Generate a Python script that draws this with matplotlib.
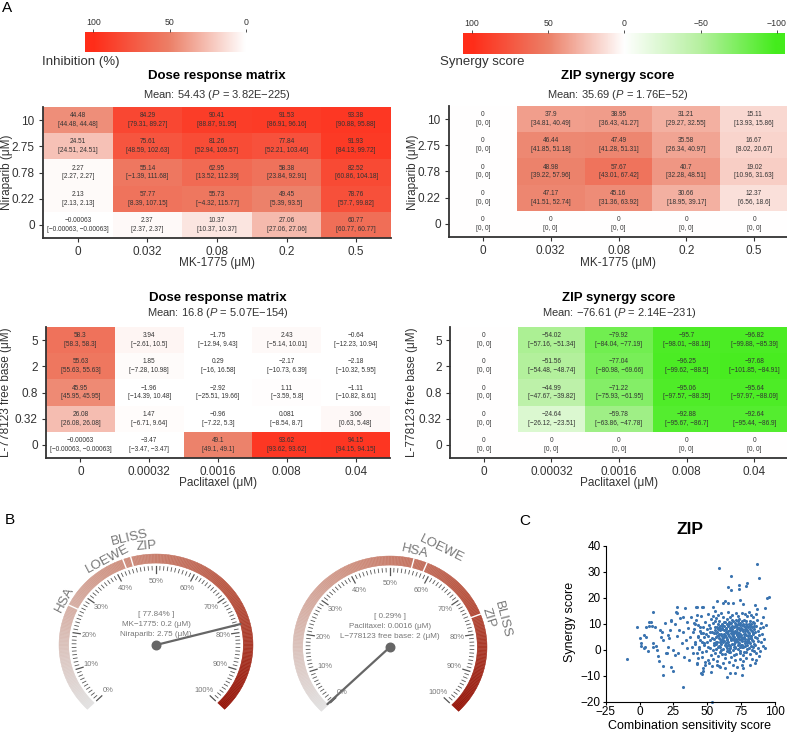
import numpy as np
import matplotlib
matplotlib.use('Agg')
import matplotlib.pyplot as plt
from matplotlib.colors import LinearSegmentedColormap, Normalize
from matplotlib.collections import PolyCollection

plt.rcParams['font.family'] = ['Liberation Sans', 'DejaVu Sans']
plt.rcParams['mathtext.fontset'] = 'custom'
plt.rcParams['mathtext.rm'] = 'Liberation Sans'
plt.rcParams['mathtext.it'] = 'Liberation Sans:italic'
plt.rcParams['mathtext.bf'] = 'Liberation Sans:bold'

# Data ###################################################
mk_dose = ['0', '0.032', '0.08', '0.2', '0.5']
nira_dose = ['10', '2.75', '0.78', '0.22', '0']          # top -> bottom
pac_dose = ['0', '0.00032', '0.0016', '0.008', '0.04']
l77_dose = ['5', '2', '0.8', '0.32', '0']                # top -> bottom

# dose response, MK-1775 x Niraparib (rows top -> bottom)
dr1 = [[44.48, 84.29, 90.41, 91.53, 93.38],
       [24.51, 75.61, 81.26, 77.84, 91.93],
       [2.27, 55.14, 62.95, 58.38, 82.52],
       [2.13, 57.77, 55.73, 49.45, 78.76],
       [-0.00063, 2.37, 10.37, 27.06, 60.77]]
dr1_lo = [[44.48, 79.31, 88.87, 86.91, 90.88],
          [24.51, 48.59, 52.94, 52.21, 84.13],
          [2.27, -1.39, 13.52, 23.84, 60.86],
          [2.13, 8.39, -4.32, 5.39, 57.7],
          [-0.00063, 2.37, 10.37, 27.06, 60.77]]
dr1_hi = [[44.48, 89.27, 91.95, 96.16, 95.88],
          [24.51, 102.63, 109.57, 103.46, 99.72],
          [2.27, 111.68, 112.39, 92.91, 104.18],
          [2.13, 107.15, 115.77, 93.5, 99.82],
          [-0.00063, 2.37, 10.37, 27.06, 60.77]]

# ZIP synergy, MK-1775 x Niraparib
zip1 = [[0, 37.9, 38.95, 31.21, 15.11],
        [0, 46.44, 47.49, 35.58, 16.67],
        [0, 48.98, 57.67, 40.7, 19.02],
        [0, 47.17, 45.16, 30.66, 12.37],
        [0, 0, 0, 0, 0]]
zip1_lo = [[0, 34.81, 36.43, 29.27, 13.93],
           [0, 41.85, 41.28, 26.34, 8.02],
           [0, 39.22, 43.01, 32.28, 10.96],
           [0, 41.51, 31.36, 18.95, 6.56],
           [0, 0, 0, 0, 0]]
zip1_hi = [[0, 40.49, 41.27, 32.55, 15.86],
           [0, 51.18, 51.31, 40.97, 20.67],
           [0, 57.96, 67.42, 48.51, 31.63],
           [0, 52.74, 63.92, 39.17, 18.6],
           [0, 0, 0, 0, 0]]

# dose response, Paclitaxel x L-778123
dr2 = [[58.3, 3.94, -1.75, 2.43, -0.64],
       [55.63, 1.85, 0.29, -2.17, -2.18],
       [45.95, -1.96, -2.92, 1.11, -1.11],
       [26.08, 1.47, -0.96, 0.081, 3.06],
       [-0.00063, -3.47, 49.1, 93.62, 94.15]]
dr2_lo = [[58.3, -2.61, -12.94, -5.14, -12.23],
          [55.63, -7.28, -16, -10.73, -10.32],
          [45.95, -14.39, -25.51, -3.59, -10.82],
          [26.08, -6.71, -7.22, -8.54, 0.63],
          [-0.00063, -3.47, 49.1, 93.62, 94.15]]
dr2_hi = [[58.3, 10.5, 9.43, 10.01, 10.94],
          [55.63, 10.98, 16.58, 6.39, 5.95],
          [45.95, 10.48, 19.66, 5.8, 8.61],
          [26.08, 9.64, 5.3, 8.7, 5.48],
          [-0.00063, -3.47, 49.1, 93.62, 94.15]]

# ZIP synergy, Paclitaxel x L-778123
zip2 = [[0, -54.02, -79.92, -95.7, -96.82],
        [0, -51.56, -77.04, -96.25, -97.68],
        [0, -44.99, -71.22, -95.06, -95.64],
        [0, -24.64, -59.78, -92.88, -92.64],
        [0, 0, 0, 0, 0]]
zip2_lo = [[0, -57.16, -84.04, -98.01, -99.88],
           [0, -54.48, -80.98, -99.62, -101.85],
           [0, -47.67, -75.93, -97.57, -97.97],
           [0, -26.12, -63.86, -95.67, -95.44],
           [0, 0, 0, 0, 0]]
zip2_hi = [[0, -51.34, -77.19, -88.18, -85.39],
           [0, -48.74, -69.66, -88.5, -84.91],
           [0, -39.82, -61.95, -88.35, -88.09],
           [0, -23.51, -47.78, -86.7, -86.9],
           [0, 0, 0, 0, 0]]

# gauges (B)
g1_marks = {'HSA': 26.3, 'LOEWE': 42.6, 'BLISS': 44.4, 'ZIP': 44.4}
g1_value = 77.84
g1_text = ['[ 77.84% ]', 'MK\u22121775: 0.2 (\u03bcM)', 'Niraparib: 2.75 (\u03bcM)']
g2_marks = {'HSA': 55.3, 'LOEWE': 58.3, 'BLISS': 75.5, 'ZIP': 75.5}
g2_value = 0.29
g2_text = ['[ 0.29% ]', 'Paclitaxel: 0.0016 (\u03bcM)', 'L\u2212778123 free base: 2 (\u03bcM)']

# ZIP score vs combination sensitivity score (C)
css_zip = [
    (-9.0, -3.6), (-2.1, 8.8), (0.3, 4.4), (0.8, 2.7), (3.5, 5.6), (4.0, 1.2), (4.8, 5.0),
    (6.5, -0.4), (7.2, 9.1), (8.5, 10.5), (9.2, 9.1), (9.7, 2.4), (10.2, 14.6), (11.4, 8.6),
    (12.6, -0.1), (13.9, -2.4), (14.6, -4.2), (15.6, 5.0), (16.3, 6.9), (17.1, 3.7),
    (17.1, -6.3), (17.6, -9.7), (18.8, 10.1), (20.0, -1.4), (21.3, 1.2), (21.8, 4.4),
    (22.5, 7.6), (23.0, 11.2), (23.2, -6.5), (24.5, -8.1), (25.0, -0.1), (26.2, 9.9),
    (27.4, 14.0), (27.9, 5.3), (28.6, -1.4), (29.4, 7.6), (29.9, 12.1), (31.1, 2.4),
    (31.8, -14.2), (32.3, 7.0), (32.8, -2.7), (33.6, 15.9), (34.3, 3.7), (34.8, 10.8),
    (35.3, 0.5), (36.0, 8.2), (36.8, -4.0), (37.3, 5.0), (37.7, 12.7), (38.5, 1.2),
    (39.2, -1.4), (39.7, 6.9), (40.2, 10.1), (40.9, 3.1), (41.7, 16.5), (42.2, -5.3),
    (42.7, 13.3), (43.4, 5.0), (44.1, 1.2), (44.6, 8.8), (45.1, -9.1), (45.8, -0.8),
    (45.8, 16.5), (46.6, 6.5), (47.1, -7.2), (47.6, 2.4), (4.5, 8.8), (6.7, 10.8),
    (9.9, 1.2), (11.9, 1.4), (14.9, 7.6), (19.7, -1.3), (21.2, 5.7), (23.4, 11.4),
    (26.0, -2.0), (26.7, 14.6), (27.6, 16.5), (32.0, 12.7), (1.3, 1.4), (3.3, 0.5),
    # upper and lower outliers
    (58.9, 31.5), (87.0, 32.8), (88.2, 27.7), (67.5, 28.3), (65.5, 24.2), (67.3, 23.0),
    (73.4, 24.9), (73.7, 23.2), (79.1, 25.8), (78.6, 24.6), (93.9, 19.8), (95.8, 20.2),
    (92.6, 15.9), (57.0, 18.9), (61.9, 18.1), (63.1, 18.7), (65.5, 18.1), (68.8, 17.8),
    (74.2, 19.1), (76.6, 17.6), (85.3, 17.2), (86.5, 15.5), (42.2, 16.5), (46.6, 16.5),
    (54.5, 16.5), (53.7, -20.0), (64.3, -10.6), (66.8, -9.1), (70.5, -9.1), (75.4, -9.7),
    (76.6, -7.2), (85.3, -5.2), (46.6, -8.1), (45.9, -9.4), (52.5, -8.5), (57.0, -5.9),
    (59.4, -6.5), (48.3, -5.9), (42.2, -5.5),
    # dense cloud
    (40.5, 7.8), (41.2, 2.1), (41.8, 11.5), (42.3, -1.2), (42.9, 5.4), (43.5, 9.6), (44.0, 0.3),
    (44.6, 3.9), (45.2, 12.8), (45.7, 6.6), (46.1, -2.8), (46.8, 8.9), (47.3, 1.7), (47.9, 4.8),
    (48.4, 10.7), (48.9, -0.6), (49.3, 6.1), (49.8, 2.9), (50.2, 13.9), (50.6, -3.9),
    (40.9, 9.9), (43.1, -3.1), (44.9, 7.2), (46.4, 3.0), (48.1, -4.6), (49.6, 8.1),
    (50.9, 5.2), (51.3, 9.4), (51.7, 0.8), (52.1, 3.6), (52.5, 11.8), (52.8, -1.9), (53.2, 7.0),
    (53.6, 4.4), (54.0, -0.2), (54.3, 10.3), (54.7, 1.9), (55.0, 6.3), (50.4, 1.1), (51.1, -5.2),
    (52.3, 8.2), (53.9, 13.1), (54.5, -3.4), (55.3, 2.6), (51.9, 6.7), (53.4, -6.3),
    (55.6, 8.8), (55.9, -1.1), (56.2, 4.9), (56.5, 12.2), (56.8, 0.4), (57.1, 6.9), (57.4, 3.1),
    (57.7, 9.7), (58.0, -2.4), (58.3, 5.5), (58.6, 1.6), (58.9, 11.0), (59.2, 7.6), (59.5, -0.8),
    (59.8, 3.9), (56.0, 14.8), (57.0, -4.3), (58.1, 13.5), (59.0, -6.1), (59.6, 9.2), (56.7, 2.2),
    (57.9, 7.9), (58.8, 4.6), (55.8, 10.9), (59.3, 0.9),
    (60.1, 6.1), (60.4, 2.3), (60.7, 9.9), (61.0, -1.5), (61.3, 4.5), (61.6, 12.6), (61.9, 0.2),
    (62.2, 7.4), (62.5, 3.3), (62.8, -3.2), (63.1, 10.5), (63.4, 5.7), (63.7, 1.3), (64.0, 8.5),
    (64.3, -0.4), (64.6, 4.0), (64.9, 11.7), (60.2, 14.2), (61.5, -5.0), (62.0, 9.0), (63.0, -7.0),
    (63.9, 2.6), (64.5, 6.8), (60.9, 3.7), (62.6, 5.9), (61.2, 7.9), (63.3, -1.8), (64.8, 0.8),
    (65.2, 3.0), (65.5, 7.3), (65.8, -1.0), (66.1, 5.2), (66.4, 9.8), (66.7, 1.5), (67.0, 12.4),
    (67.3, 4.2), (67.6, -2.7), (67.9, 8.1), (68.2, 2.3), (68.5, 6.0), (68.8, -0.1), (69.1, 10.9),
    (69.4, 3.6), (69.7, 7.0), (65.3, 14.5), (66.0, -4.8), (67.1, 0.6), (68.0, 13.4), (68.9, -5.7),
    (69.5, 1.0), (65.9, 10.7), (66.6, 4.8), (67.7, 6.6), (68.4, 9.2), (69.9, -2.2), (66.3, 2.0),
    (67.4, 8.7), (69.2, 5.4),
    (70.0, 4.7), (70.3, 9.1), (70.6, 1.2), (70.9, 6.4), (71.2, -1.6), (71.5, 11.3), (71.8, 3.5),
    (72.1, 7.8), (72.4, 0.1), (72.7, 5.0), (73.0, 13.0), (73.3, 2.7), (73.6, 8.4), (73.9, -3.5),
    (74.2, 6.2), (74.5, 10.2), (74.8, 1.8), (70.4, -4.0), (71.0, 14.0), (72.0, -6.6), (72.9, 9.8),
    (73.7, 4.1), (74.4, -1.3), (70.8, 7.3), (71.7, 5.6), (72.6, 2.0), (73.4, 11.9), (74.7, 3.6),
    (70.2, 2.9), (74.0, 7.4),
    (75.1, 5.8), (75.4, 0.9), (75.7, 9.4), (76.0, 3.2), (76.3, 7.1), (76.6, -2.1), (76.9, 11.5),
    (77.2, 4.5), (77.5, 8.0), (77.8, 1.4), (78.1, 6.0), (78.4, -0.7), (78.7, 10.0), (79.0, 3.0),
    (79.3, 7.6), (79.6, 12.8), (75.5, 14.3), (76.2, -4.5), (77.3, -1.0), (78.0, 13.9), (78.8, -3.0),
    (79.8, 5.3), (75.9, 11.0), (76.8, 5.0), (77.9, 2.5), (79.4, 0.4), (75.3, -6.0), (78.5, 8.8),
    (80.1, 4.2), (80.4, 8.7), (80.7, 0.6), (81.0, 6.5), (81.3, 11.1), (81.6, 2.4), (81.9, -1.8),
    (82.2, 7.5), (82.5, 9.9), (82.8, 3.8), (83.1, -3.7), (83.4, 5.9), (83.7, 12.6), (84.0, 1.1),
    (84.3, 7.9), (84.6, -0.5), (80.5, 14.6), (81.5, -5.8), (82.0, 13.3), (83.0, 0.0), (84.8, 10.2),
    (80.9, 2.9), (82.6, 5.2), (83.8, 3.3),
    (85.0, 6.7), (85.4, 2.0), (85.8, 9.3), (86.2, -1.3), (86.6, 4.6), (87.0, 11.6), (87.4, 7.2),
    (87.8, 0.8), (88.3, 5.5), (88.8, 8.4), (89.3, 3.0), (89.8, 10.4), (90.3, 6.2), (90.8, 1.5),
    (91.5, 8.9), (92.2, 4.0), (93.0, 9.5), (86.0, 13.8), (88.0, -2.6), (91.0, 12.5), (92.5, 0.7),
    (85.7, -3.9), (89.0, -0.4), (87.2, 3.4),
    (55.2, 4.1), (56.4, 6.5), (57.6, 1.0), (58.4, 8.3), (59.7, 2.8), (60.6, 5.1), (61.8, 2.9),
    (62.4, 10.8), (63.6, 6.9), (64.2, 3.6), (65.0, 9.0), (65.7, 0.0), (66.9, 7.7), (67.8, 3.9),
    (68.6, 11.6), (69.3, 5.9), (70.1, 0.5), (70.7, 10.4), (71.4, 4.0), (72.2, 8.9), (72.8, 3.0),
    (73.5, 6.3), (74.1, 0.9), (74.9, 8.2), (75.6, 2.0), (76.4, 9.9), (77.0, 6.2), (77.7, 3.5),
    (78.3, 11.2), (78.9, 5.6), (79.5, 1.8), (80.2, 7.0), (80.8, 10.0), (81.4, 4.6), (82.1, 1.5),
    (82.9, 8.6), (83.5, 6.5), (84.2, 2.3), (84.9, 5.0), (56.1, 3.0), (57.3, 8.8), (58.7, 6.0),
    (60.0, 0.0), (61.1, 9.5), (62.9, 1.9), (63.8, 4.9), (64.7, 9.9), (65.6, 5.9), (66.8, -0.7),
    (67.5, 10.1), (68.7, 4.4), (69.8, 8.6), (70.5, 3.3), (71.6, 7.0), (72.5, 11.0), (73.2, 5.2),
    (73.8, -0.5), (74.6, 4.8), (75.8, 7.8), (76.7, 1.1), (77.4, 9.3), (78.2, 4.0), (79.1, 9.0),
    (79.9, 3.8), (80.6, 5.8), (81.8, 9.0), (83.3, 7.2), (84.5, 9.0), (55.5, 7.5), (57.2, 5.3),
    (59.1, 4.2), (60.8, 8.3), (62.1, 5.4), (63.5, 8.0), (65.4, 1.9), (66.5, 8.3), (68.1, 7.2),
    (69.6, 2.2), (71.1, 9.6), (72.3, 6.1), (74.3, 9.4), (75.9, 4.3), (77.6, 7.3), (78.6, 2.8),
    (80.3, 3.0), (81.2, 7.8), (82.4, 4.5), (83.9, 10.6),
]

# Figure setup ###########################################
W, H = 787, 736
fig = plt.figure(figsize=(W / 100, H / 100), dpi=100)
TXT = '#333333'


def px_axes(l, t, r, b):
    return fig.add_axes([l / W, 1 - b / H, (r - l) / W, (b - t) / H])


def ftext(x, y, s, **kw):
    kw.setdefault('ha', 'center')
    kw.setdefault('va', 'center')
    kw.setdefault('color', TXT)
    return fig.text(x / W, 1 - y / H, s, **kw)


def fmt(v):
    return ('%g' % v).replace('-', '\u2212')


white = (1, 1, 1)
mid_red = (236 / 255, 128 / 255, 104 / 255)
full_red = (1.0, 45 / 255, 25 / 255)
mid_green = (182 / 255, 240 / 255, 160 / 255)
full_green = (68 / 255, 236 / 255, 28 / 255)

inhib_cmap = LinearSegmentedColormap.from_list('inhib', [(0, white), (0.5, mid_red), (1, full_red)])
inhib_cmap.set_under('white')
inhib_norm = Normalize(0, 100)
syn_cmap = LinearSegmentedColormap.from_list(
    'syn', [(0, full_green), (0.25, mid_green), (0.5, white), (0.75, mid_red), (1, full_red)])
syn_norm = Normalize(-100, 100)


def heatmap(rect, vals, lo, hi, cmap, norm, xlabs, ylabs):
    ax = px_axes(*rect)
    v = np.array(vals)[::-1]
    l = np.array(lo)[::-1]
    h = np.array(hi)[::-1]
    edges = np.arange(6) - 0.5
    ax.pcolormesh(edges, edges, v, cmap=cmap, norm=norm)
    for i in range(5):
        for j in range(5):
            ax.text(j, i + 0.17, fmt(v[i, j]), ha='center', va='center', fontsize=4.7, color=TXT)
            ax.text(j, i - 0.17, '[%s, %s]' % (fmt(l[i, j]), fmt(h[i, j])),
                    ha='center', va='center', fontsize=4.7, color=TXT)
    ax.set_xlim(-0.5, 4.5)
    ax.set_ylim(-0.5, 4.5)
    ax.set_xticks(range(5))
    ax.set_xticklabels(xlabs)
    ax.set_yticks(range(5))
    ax.set_yticklabels(ylabs[::-1])
    for s in ['top', 'right']:
        ax.spines[s].set_visible(False)
    for s in ['left', 'bottom']:
        ax.spines[s].set_color(TXT)
        ax.spines[s].set_linewidth(1.3)
    ax.tick_params(labelsize=8.5, colors=TXT, length=3, width=0.8, pad=3)
    return ax


# Panel A: heatmaps ######################################
heatmap((43, 107, 391, 238), dr1, dr1_lo, dr1_hi, inhib_cmap, inhib_norm, mk_dose, nira_dose)
heatmap((449, 106, 788, 237), zip1, zip1_lo, zip1_hi, syn_cmap, syn_norm, mk_dose, nira_dose)
heatmap((46, 327, 390, 458), dr2, dr2_lo, dr2_hi, inhib_cmap, inhib_norm, pac_dose, l77_dose)
heatmap((450, 327, 788, 458), zip2, zip2_lo, zip2_hi, syn_cmap, syn_norm, pac_dose, l77_dose)

ftext(217, 76, 'Dose response matrix', fontsize=9.5, fontweight='bold', color='black')
ftext(217, 95, 'Mean: 54.43 ($P$ = 3.82E\u2212225)', fontsize=8)
ftext(618, 76, 'ZIP synergy score', fontsize=9.5, fontweight='bold', color='black')
ftext(618, 95, 'Mean: 35.69 ($P$ = 1.76E\u221252)', fontsize=8)
ftext(218, 298, 'Dose response matrix', fontsize=9.5, fontweight='bold', color='black')
ftext(218, 313, 'Mean: 16.8 ($P$ = 5.07E\u2212154)', fontsize=8)
ftext(619, 298, 'ZIP synergy score', fontsize=9.5, fontweight='bold', color='black')
ftext(619, 313, 'Mean: \u221276.61 ($P$ = 2.14E\u2212231)', fontsize=8)

ftext(217, 263, 'MK-1775 (\u03bcM)', fontsize=8.5)
ftext(618, 263, 'MK-1775 (\u03bcM)', fontsize=8.5)
ftext(218, 483, 'Paclitaxel (\u03bcM)', fontsize=8.5)
ftext(619, 483, 'Paclitaxel (\u03bcM)', fontsize=8.5)
ftext(7, 172, 'Niraparib (\u03bcM)', fontsize=8.5, rotation=90)
ftext(413, 172, 'Niraparib (\u03bcM)', fontsize=8.5, rotation=90)
ftext(6, 392, 'L-778123 free base (\u03bcM)', fontsize=8.5, rotation=90)
ftext(412, 392, 'L-778123 free base (\u03bcM)', fontsize=8.5, rotation=90)

# colorbars
def colorbar(rect, vmax, vmin, cmap, norm, ticks, labels):
    ax = px_axes(*rect)
    grad = np.linspace(vmax, vmin, 500)
    ax.imshow(grad[None, :], aspect='auto', cmap=cmap, norm=norm, extent=(vmax, vmin, 0, 1))
    ax.set_xlim(vmax, vmin)
    ax.xaxis.tick_top()
    ax.set_xticks(ticks)
    ax.set_xticklabels(labels)
    ax.set_yticks([])
    for s in ax.spines.values():
        s.set_visible(False)
    ax.tick_params(labelsize=6.3, colors=TXT, length=2, width=0.6, pad=1.5)


colorbar((85, 31.7, 258, 52.3), 105.4, -8, inhib_cmap, inhib_norm, [100, 50, 0], ['100', '50', '0'])
colorbar((463.3, 33.3, 785, 54), 105.7, -105.4, syn_cmap, syn_norm, [100, 50, 0, -50, -100],
         ['100', '50', '0', '\u221250', '\u2212100'])
ftext(42, 62, 'Inhibition (%)', fontsize=9.5, ha='left')
ftext(440, 62, 'Synergy score', fontsize=9.5, ha='left')

# Panel B: gauges ########################################
gauge_cmap = LinearSegmentedColormap.from_list(
    'gauge', [(0, '#e2e2e2'), (0.4, '#d09484'), (0.7, '#b95541'), (1, '#96160a')])


def ang(p):
    return np.radians(225 - 2.7 * p)


def gauge(cx, cy, marks, label_pos, value, lines):
    ax = px_axes(cx - 130, cy - 120, cx + 130, cy + 75)
    ax.set_xlim(-130 / 97, 130 / 97)
    ax.set_ylim(-75 / 91, 120 / 91)
    ax.axis('off')
    polys, cols = [], []
    steps = np.linspace(0, 100, 301)
    for p0, p1 in zip(steps[:-1], steps[1:]):
        a = np.linspace(ang(p0), ang(p1), 3)
        outer = np.c_[np.cos(a), np.sin(a)]
        inner = 0.9 * outer[::-1]
        polys.append(np.vstack([outer, inner]))
        cols.append(gauge_cmap((p0 + p1) / 200))
    ax.add_collection(PolyCollection(polys, facecolors=cols, edgecolors=cols, linewidths=0.3))
    for p in set(marks.values()):
        a = ang(p)
        ax.plot([0.9 * np.cos(a), 1.0 * np.cos(a)], [0.9 * np.sin(a), 1.0 * np.sin(a)],
                color='white', lw=1.0)
    for p in range(101):
        a = ang(p)
        r1 = 0.79 if p % 10 == 0 else 0.825
        ax.plot([0.865 * np.cos(a), r1 * np.cos(a)], [0.865 * np.sin(a), r1 * np.sin(a)],
                color='#555555', lw=0.9 if p % 10 == 0 else 0.6)
        if p % 10 == 0:
            ax.text(0.7 * np.cos(a), 0.7 * np.sin(a), '%d%%' % p, ha='center', va='center',
                    fontsize=5.4, color='#777777')
    for name, (deg, r) in label_pos.items():
        a = np.radians(deg)
        ax.text(r * np.cos(a), r * np.sin(a), name, ha='center', va='center', fontsize=9.5,
                color='#777777', rotation=deg - 90, rotation_mode='anchor')
    a = ang(value)
    ax.plot([0, 0.9 * np.cos(a)], [0, 0.9 * np.sin(a)], color='#666666', lw=1.6,
            solid_capstyle='round')
    ax.scatter([0], [0], s=38, color='#666666', zorder=5)
    for k, s in enumerate(lines):
        ax.text(0, (645 - 615 - 10 * k) / 91, s, ha='center', va='center', fontsize=5.8,
                color='#777777')


gauge(156, 645, g1_marks, {'HSA': (152, 1.07), 'LOEWE': (118, 1.07), 'ZIP': (95, 1.09),
                           'BLISS': (103, 1.21)}, g1_value, g1_text)
gauge(390, 647, g2_marks, {'HSA': (76.3, 1.08), 'LOEWE': (63.8, 1.2), 'ZIP': (17.4, 1.06),
                           'BLISS': (14.3, 1.2)}, g2_value, g2_text)

# Panel C: scatter #######################################
ax = px_axes(605.7, 545.7, 775, 701.7)
xs = [p[0] for p in css_zip]
ys = [p[1] for p in css_zip]
ax.scatter(xs, ys, s=5, color='#3b74b0', linewidths=0, clip_on=False)
ax.set_xlim(-25, 100)
ax.set_ylim(-20, 40)
ax.set_xticks([-25, 0, 25, 50, 75, 100])
ax.set_yticks([-20, -10, 0, 10, 20, 30, 40])
ax.set_xticklabels(['\u221225', '0', '25', '50', '75', '100'])
ax.set_yticklabels(['\u221220', '\u221210', '0', '10', '20', '30', '40'])
for s in ['top', 'right']:
    ax.spines[s].set_visible(False)
ax.tick_params(labelsize=8.5, length=2.5, width=0.8, pad=1)
ax.tick_params(axis='x', pad=0.5)
ftext(690, 726, 'Combination sensitivity score', fontsize=9, color='black')
ftext(690, 530, 'ZIP', fontsize=12.5, fontweight='bold', color='black')
ftext(570, 622, 'Synergy score', fontsize=9, rotation=90, color='black')

# panel letters
ftext(7, 8, 'A', fontsize=11, color='black')
ftext(10, 520, 'B', fontsize=11, color='black')
ftext(525, 521, 'C', fontsize=11, color='black')

fig.savefig('out.png', dpi=100)
